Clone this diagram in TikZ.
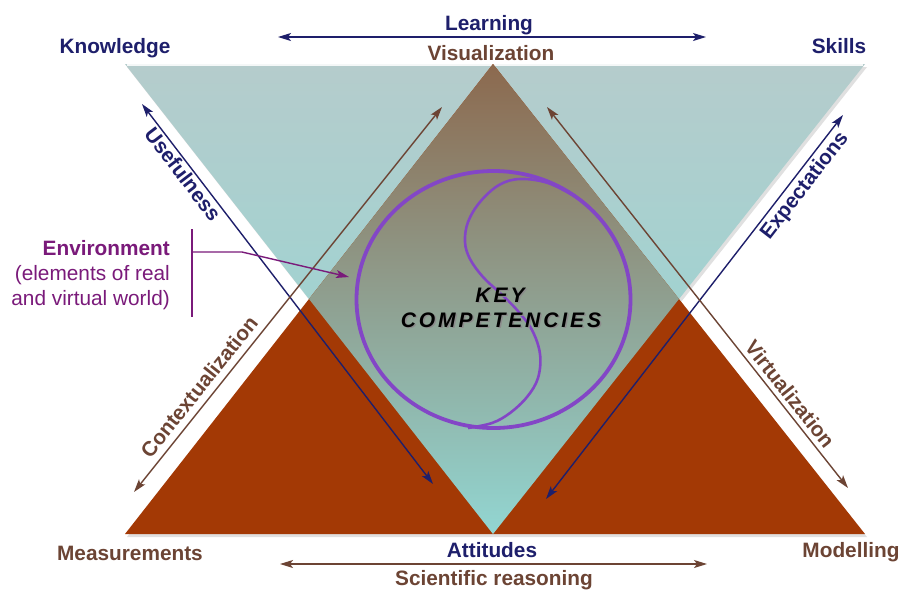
\documentclass[tikz,border=0pt]{standalone}
\usepackage{fontspec}
\setmainfont{Liberation Sans}
\usetikzlibrary{arrows.meta}
\definecolor{navy}{RGB}{30,31,107}
\definecolor{brtext}{RGB}{108,68,52}
\definecolor{envp}{RGB}{122,26,122}
\definecolor{ringp}{RGB}{131,70,198}
\definecolor{tealtop}{RGB}{181,204,204}
\definecolor{tealbot}{RGB}{143,216,213}
\definecolor{brownfill}{RGB}{163,57,5}
\definecolor{ovtop}{RGB}{140,105,78}
\definecolor{ovmid}{RGB}{140,158,145}
\definecolor{ovbot}{RGB}{146,214,210}
\tikzset{
  lbl/.style={font=\fontsize{20.8}{24}\selectfont\bfseries, anchor=base, inner sep=0pt},
  envtxt/.style={font=\fontsize{20.8}{24}\selectfont, anchor=base east, inner sep=0pt, text=envp},
  darr/.style={line width=1.4pt,{Stealth[length=13pt,width=8pt,inset=3pt]}-{Stealth[length=13pt,width=8pt,inset=3pt]}},
  kc/.style={font=\fontsize{21}{24}\selectfont\bfseries\itshape\addfontfeature{LetterSpace=14}, anchor=base, inner sep=0pt}
}
\begin{document}
\begin{tikzpicture}[x=1pt,y=-1pt]
\useasboundingbox (0,0) rectangle (900,590);
\fill[white] (0,0) rectangle (900,590);
% triangle corners
\coordinate (TL) at (125,64);
\coordinate (TR) at (865,64);
\coordinate (BV) at (493,534);
\coordinate (AP) at (493,64);
\coordinate (BL) at (125,534);
\coordinate (BR) at (865,534);
\coordinate (ML) at (309,299);
\coordinate (MR) at (679,299);
% soft shadows
\fill[black!12] ([shift={(2,3)}]TL) -- ([shift={(2,3)}]TR) -- ([shift={(2,3)}]BV) -- cycle;
\fill[black!12] ([shift={(2,3)}]AP) -- ([shift={(2,3)}]BR) -- ([shift={(2,3)}]BL) -- cycle;
% triangles
\shade[top color=tealtop, bottom color=tealbot] (TL) -- (TR) -- (BV) -- cycle;
\draw[white!85!tealtop, line width=1.2pt] ([shift={(2,1)}]TL) -- ([shift={(-2,1)}]TR);
\fill[brownfill] (AP) -- (BR) -- (BL) -- cycle;
\shade[top color=ovtop, middle color=ovmid, bottom color=ovbot] (AP) -- (MR) -- (BV) -- (ML) -- cycle;
% arrows
\coordinate (la) at (278,37);   \coordinate (lb) at (706,37);
\coordinate (sa) at (280,564);  \coordinate (sb) at (707,564);
\coordinate (ua) at (142,104);  \coordinate (ub) at (433,484);
\coordinate (ea) at (843,115);  \coordinate (eb) at (546,499);
\coordinate (ca) at (442,107);  \coordinate (cb) at (134,492);
\coordinate (va) at (547,107);  \coordinate (vb) at (848,488);
\draw[darr, navy] (la) -- (lb);
\draw[darr, brtext] (sa) -- (sb);
\draw[darr, navy] (ua) -- (ub);
\draw[darr, navy] (ea) -- (eb);
\draw[darr, brtext] (ca) -- (cb);
\draw[darr, brtext] (va) -- (vb);
% ring and S curve
\draw[ringp, line width=3.8pt] (493.5,299.5) ellipse [x radius=137, y radius=128.5];
\draw[ringp, line width=2.6pt] plot[smooth, tension=0.6] coordinates {
  (576,197) (548,183) (520,179) (499,185) (480,202) (468,222) (465,242) (470,259)
  (483,277) (500,293) (517,310) (532,330) (540,354) (538,378) (527,397) (510,413)
  (492,423) (468,428)};
% labels
\node[lbl, text=navy] (learning) at (489,30) {Learning};
\node[lbl, text=brtext] (visual) at (491,60) {Visualization};
\node[lbl, text=navy] (knowledge) at (115,53) {Knowledge};
\node[lbl, text=navy] (skills) at (839,53) {Skills};
\node[lbl, text=brtext] (meas) at (130,560) {Measurements};
\node[lbl, text=navy] (att) at (492,557) {Attitudes};
\node[lbl, text=brtext] (model) at (851,557) {Modelling};
\node[lbl, text=brtext] (sci) at (494,585) {Scientific reasoning};
\node[lbl, anchor=center, text=navy, rotate=-52.6] (useful) at (183,174) {Usefulness};
\node[lbl, anchor=center, text=navy, rotate=52.3] (expect) at (805,186) {Expectations};
\node[lbl, anchor=center, text=brtext, rotate=51.3] (context) at (199,387) {Contextualization};
\node[lbl, anchor=center, text=brtext, rotate=-51.7] (virtual) at (790,394) {Virtualization};
% environment
\node[envtxt, font=\fontsize{20.8}{24}\selectfont\bfseries] (env) at (170,255) {Environment};
\node[envtxt] (env2) at (170,280) {(elements of real};
\node[envtxt] (env3) at (170,305) {and virtual world)};
\coordinate (brt) at (192,229); \coordinate (brb) at (192,317);
\coordinate (bm) at (192,252); \coordinate (bk) at (242,252); \coordinate (btip) at (349,277);
\draw[envp, line width=1.5pt] (brt) -- (brb);
\draw[envp, line width=1.4pt, -{Stealth[length=13pt,width=8pt,inset=3pt]}] (bm) -- (bk) -- (btip);
% key competencies
\node[kc, text=black!45] at (501.5,303.5) {KEY};
\node[kc, text=black!45] at (502.5,328.5) {COMPETENCIES};
\node[kc] (key) at (500,302) {KEY};
\node[kc] (comp) at (501,327) {COMPETENCIES};
\end{tikzpicture}
\end{document}
